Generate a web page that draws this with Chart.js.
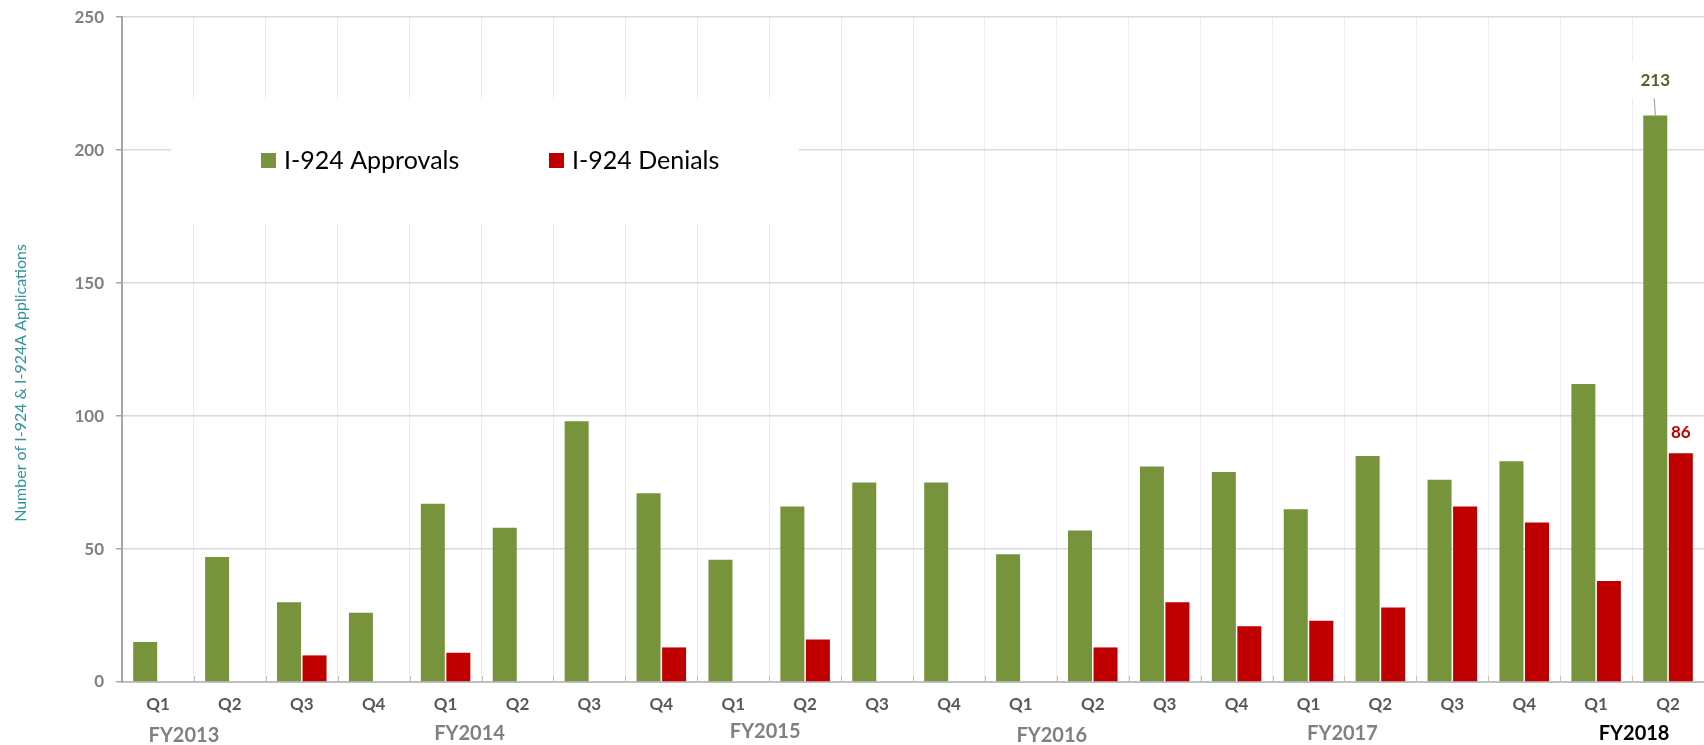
<!DOCTYPE html>
<html>
<head>
<meta charset="utf-8">
<script src="https://cdn.jsdelivr.net/npm/chart.js@4.4.1/dist/chart.umd.min.js"></script>
<style>
  html, body { margin: 0; padding: 0; background: #ffffff; }
  #wrap { width: 1704px; height: 745px; position: relative; }
</style>
</head>
<body>
<div id="wrap"><canvas id="c" width="1704" height="745"></canvas></div>
<script>
const quarters = ['Q1','Q2','Q3','Q4','Q1','Q2','Q3','Q4','Q1','Q2','Q3','Q4',
                  'Q1','Q2','Q3','Q4','Q1','Q2','Q3','Q4','Q1','Q2'];
const fiscalYears = ['FY2013','FY2014','FY2015','FY2016','FY2017','FY2018'];
const approvals = [15, 47, 30, 26, 67, 58, 98, 71, 46, 66, 75, 75,
                   48, 57, 81, 79, 65, 85, 76, 83, 112, 213];
const denials   = [null, null, 10, null, 11, null, null, 13, null, 16, null, null,
                   null, 13, 30, 21, 23, 28, 66, 60, 38, 86];
const seriesNames = ['I-924 Approvals', 'I-924 Denials'];
const yTitle = 'Number of I-924 & I-924A Applications';

const GREEN = '#77933C';
const RED = '#C00000';
const FONT = 'Lato, "Liberation Sans", sans-serif';

const overlayPlugin = {
  id: 'overlay',
  beforeDatasetsDraw(chart) {
    const ctx = chart.ctx;
    const xs = chart.scales.x;
    const area = chart.chartArea;
    ctx.save();
    // white legend box hiding gridlines
    ctx.fillStyle = '#ffffff';
    ctx.fillRect(171, 98, 628, 125);
    // inner tick marks on the x axis at category boundaries
    ctx.strokeStyle = '#bfbfbf';
    ctx.lineWidth = 1;
    for (let i = 1; i < quarters.length; i++) {
      const bx = Math.round((xs.getPixelForValue(i - 1) + xs.getPixelForValue(i)) / 2) + 0.5;
      ctx.beginPath();
      ctx.moveTo(bx, area.bottom - 6);
      ctx.lineTo(bx, area.bottom);
      ctx.stroke();
    }
    // legend
    ctx.font = '25px ' + FONT;
    ctx.textBaseline = 'middle';
    ctx.textAlign = 'left';
    const legendX = [261, 549];
    const colors = [GREEN, RED];
    for (let i = 0; i < seriesNames.length; i++) {
      ctx.fillStyle = colors[i];
      ctx.fillRect(legendX[i], 153, 15, 15);
      ctx.fillStyle = '#000000';
      ctx.fillText(seriesNames[i], legendX[i] + 23, 161);
    }
    // white box behind the top label
    const lastG = chart.getDatasetMeta(0).data[approvals.length - 1];
    ctx.fillStyle = '#ffffff';
    ctx.fillRect(lastG.x - 28, lastG.y - 54, 56, 37);
    ctx.restore();
  },
  afterDatasetsDraw(chart) {
    const ctx = chart.ctx;
    const xs = chart.scales.x;
    ctx.save();
    // data labels on last quarter
    const n = approvals.length - 1;
    const g = chart.getDatasetMeta(0).data[n];
    const r = chart.getDatasetMeta(1).data[n];
    ctx.font = 'bold 17px ' + FONT;
    ctx.textAlign = 'center';
    ctx.textBaseline = 'middle';
    ctx.fillStyle = '#4F6228';
    ctx.fillText(String(approvals[n]), g.x, g.y - 35);
    ctx.strokeStyle = '#a6a6a6';
    ctx.lineWidth = 1.2;
    ctx.beginPath();
    ctx.moveTo(g.x - 1, g.y - 17);
    ctx.lineTo(g.x, g.y);
    ctx.stroke();
    ctx.fillStyle = RED;
    ctx.fillText(String(denials[n]), r.x, r.y - 21);
    // fiscal year labels
    ctx.font = 'bold 20px ' + FONT;
    const dx = [-10, -12, -4, -5, -2, 2];
    const yOff = [736, 734, 732, 736, 734, 734];
    for (let k = 0; k < fiscalYears.length; k++) {
      const i = k * 4;
      const cx = (xs.getPixelForValue(i) + xs.getPixelForValue(i + 1)) / 2;
      ctx.fillStyle = k === fiscalYears.length - 1 ? '#000000' : '#808080';
      ctx.fillText(fiscalYears[k], cx + dx[k], yOff[k]);
    }
    // y axis title
    ctx.translate(21, 383);
    ctx.rotate(-Math.PI / 2);
    ctx.font = '16px ' + FONT;
    ctx.fillStyle = '#31949B';
    ctx.fillText(yTitle, 0, 0);
    ctx.restore();
  }
};

new Chart(document.getElementById('c'), {
  type: 'bar',
  data: {
    labels: quarters,
    datasets: [
      { label: seriesNames[0], data: approvals, backgroundColor: GREEN,
        categoryPercentage: 0.71, barPercentage: 0.94 },
      { label: seriesNames[1], data: denials, backgroundColor: RED,
        categoryPercentage: 0.71, barPercentage: 0.94 }
    ]
  },
  options: {
    responsive: false,
    animation: false,
    layout: { padding: { top: 0, right: 0, bottom: 0, left: 0 } },
    plugins: {
      legend: { display: false },
      tooltip: { enabled: false }
    },
    scales: {
      x: {
        offset: true,
        grid: { offset: true, color: '#ececec', lineWidth: 1, drawTicks: false },
        border: { color: '#bfbfbf', width: 2 },
        ticks: { font: { family: FONT, size: 17, weight: 'bold' }, color: '#595959', padding: 12, maxRotation: 0, autoSkip: false },
        afterFit(scale) { scale.height = 63; }
      },
      y: {
        min: 0, max: 250,
        ticks: { stepSize: 50, font: { family: FONT, size: 17, weight: 'bold', lineHeight: 0.6 }, color: '#808080', padding: 12 },
        grid: { color: '#d9d9d9', lineWidth: 1.5, tickLength: 6, tickColor: '#a6a6a6' },
        border: { color: '#a6a6a6', width: 2 },
        afterFit(scale) { scale.width = 122; }
      }
    }
  },
  plugins: [overlayPlugin]
});
</script>
</body>
</html>
